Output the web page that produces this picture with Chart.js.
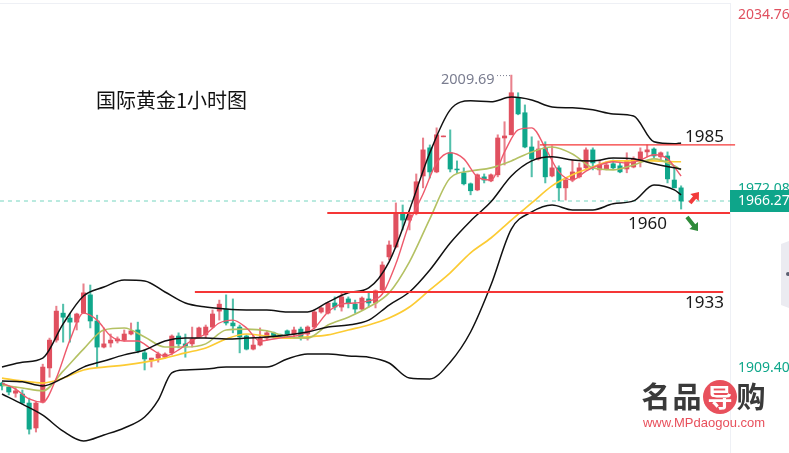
<!DOCTYPE html>
<html><head><meta charset="utf-8">
<style>html,body{margin:0;padding:0;background:#fff;overflow:hidden}canvas{display:block}</style>
<script src="https://cdn.jsdelivr.net/npm/chart.js@4/dist/chart.umd.min.js"></script>
</head><body><canvas id="c" width="789" height="453"></canvas>
<script>
const title = "国际黄金1小时图";
const axisTicks = [2034.76, 1972.08, 1909.40];
const lastPrice = 1966.27;
const highLabel = 2009.69;

const opens = [1903.5,1902.1,1900.0,1899.7,1896.6,1888.0,1896.9,1908.7,1918.3,1927.6,1925.9,1924.5,1927.6,1933.9,1924.9,1915.9,1917.3,1918.0,1918.3,1920.4,1921.8,1913.9,1911.4,1912.1,1912.4,1913.9,1919.7,1917.0,1917.0,1919.4,1920.1,1922.8,1928.3,1929.0,1924.2,1922.8,1919.7,1915.2,1916.6,1919.0,1920.8,1920.1,1921.5,1920.4,1922.1,1920.4,1922.8,1928.0,1927.6,1931.1,1929.7,1932.5,1930.7,1929.0,1932.5,1931.1,1935.6,1947.0,1950.4,1962.2,1959.7,1962.2,1974.9,1984.6,1976.3,1988.4,1982.9,1977.3,1976.0,1972.2,1970.1,1974.6,1973.2,1975.3,1988.0,1989.1,2001.8,1996.7,1984.9,1980.8,1984.6,1974.9,1977.7,1970.8,1973.5,1974.6,1977.7,1983.9,1977.0,1977.3,1979.1,1978.4,1977.3,1978.0,1980.4,1983.2,1984.2,1981.5,1981.8,1973.5,1970.8];
const closes = [1902.5,1900.4,1900.8,1896.6,1887.6,1896.6,1909.0,1918.3,1928.3,1926.2,1924.5,1927.3,1934.6,1924.9,1915.9,1917.0,1918.3,1918.7,1920.4,1921.5,1914.6,1911.8,1912.1,1913.5,1913.5,1919.7,1917.0,1916.3,1918.7,1922.5,1922.8,1927.3,1930.7,1924.2,1923.2,1919.4,1915.2,1916.6,1919.0,1920.8,1919.7,1919.7,1920.4,1921.8,1919.4,1922.8,1928.0,1929.4,1931.1,1929.7,1933.2,1931.1,1929.0,1932.8,1931.1,1935.3,1944.2,1951.1,1962.2,1959.7,1961.5,1972.9,1983.9,1976.3,1989.1,1988.7,1977.3,1977.0,1972.2,1969.8,1975.3,1973.5,1975.3,1988.0,1988.7,2003.6,1996.3,1984.9,1980.8,1984.2,1974.6,1977.7,1970.8,1973.5,1976.3,1977.7,1983.9,1979.4,1978.7,1978.7,1977.7,1976.3,1980.1,1980.8,1983.2,1983.9,1981.8,1982.9,1973.9,1970.8,1966.27];
const highs = [1903.8,1902.5,1902.1,1901.1,1898.3,1896.9,1910.0,1919.0,1930.0,1930.7,1927.6,1927.6,1937.7,1937.3,1926.9,1922.5,1920.4,1919.4,1921.8,1924.2,1924.5,1914.9,1912.1,1914.2,1913.9,1920.1,1920.8,1920.4,1922.8,1922.8,1923.5,1928.7,1932.1,1933.9,1932.5,1923.5,1920.1,1920.1,1922.5,1921.5,1921.1,1920.4,1921.8,1922.8,1922.8,1923.2,1928.7,1929.7,1931.4,1933.2,1934.6,1933.2,1932.1,1933.2,1934.6,1935.6,1945.3,1952.5,1965.6,1964.9,1962.2,1975.6,1988.0,1985.6,1991.5,1988.7,1990.8,1980.1,1977.7,1972.5,1975.6,1975.6,1975.6,1989.1,1993.6,2009.69,2003.6,1999.4,1988.4,1987.0,1986.7,1985.3,1978.4,1973.9,1980.4,1979.4,1984.6,1984.6,1980.4,1979.8,1980.4,1979.4,1982.9,1981.5,1984.6,1985.6,1984.6,1983.2,1983.2,1977.7,1971.5];
const lows = [1901.1,1899.4,1898.6,1896.2,1885.9,1886.6,1896.6,1905.5,1917.6,1917.6,1917.6,1921.8,1927.6,1922.5,1909.0,1915.6,1915.9,1917.3,1917.9,1920.1,1913.9,1908.0,1909.0,1910.7,1912.1,1913.2,1915.6,1912.4,1915.9,1919.0,1919.0,1922.5,1925.2,1923.5,1920.8,1913.9,1914.9,1914.9,1916.3,1918.3,1919.0,1919.4,1919.0,1919.0,1918.3,1918.3,1922.1,1927.6,1927.3,1928.7,1928.3,1929.4,1927.6,1928.7,1929.7,1929.4,1934.9,1945.9,1950.1,1956.3,1956.3,1961.5,1970.8,1974.2,1976.0,1988.4,1976.3,1976.0,1971.8,1968.4,1969.8,1972.5,1972.9,1974.6,1978.7,1989.1,1996.0,1984.6,1974.6,1980.4,1972.5,1974.6,1966.3,1966.6,1972.9,1974.2,1977.0,1977.0,1975.3,1977.0,1977.3,1976.0,1976.0,1977.7,1978.0,1981.5,1981.1,1980.4,1972.5,1970.8,1963.5];

const bandIdx = [0,3,6,9,12,15,18,21,24,27,30,33,36,39,42,45,48,51,54,57,60,63,66,69,72,75,78,81,84,87,90,93,96,99,100];
const upperBand = [1909.0,1910.7,1912.1,1923.9,1933.5,1936.6,1939.0,1938.7,1934.9,1931.1,1929.7,1929.0,1928.7,1928.7,1928.0,1928.0,1931.4,1934.6,1936.3,1945.3,1963.2,1982.9,1997.7,2000.8,2000.5,2002.1,2001.1,1998.7,1998.4,1997.7,1996.3,1995.6,1986.7,1986.0,1986.3];
const midBand = [1904.2,1903.9,1902.5,1905.2,1909.0,1911.1,1913.2,1914.9,1918.0,1919.0,1919.0,1918.7,1919.0,1919.4,1920.1,1921.1,1922.8,1923.5,1925.2,1930.4,1934.9,1942.5,1951.8,1959.4,1966.0,1974.9,1980.1,1981.5,1980.4,1980.1,1981.1,1980.8,1979.1,1977.7,1977.3];
const lowerIdx = [0,3,6,9,12,15,18,21,23,25,27,30,33,36,39,42,45,48,51,54,57,60,63,66,69,72,75,78,81,84,87,90,93,96,99,100];
const lowerBand = [1899.7,1896.2,1892.4,1886.9,1883.5,1885.6,1888.0,1891.8,1897.6,1907.0,1908.0,1908.3,1909.0,1909.0,1909.0,1911.8,1913.5,1913.5,1912.8,1912.4,1910.4,1905.2,1904.9,1910.7,1921.1,1937.3,1956.6,1962.5,1964.9,1963.2,1963.2,1965.3,1966.3,1971.8,1970.1,1968.4];
const yellowMA = [1905.2,1904.2,1903.5,1905.2,1908.0,1909.0,1909.7,1910.7,1912.1,1913.9,1915.6,1918.7,1920.4,1919.7,1919.0,1919.4,1920.1,1921.8,1923.5,1925.9,1929.7,1935.6,1941.5,1948.4,1953.5,1959.7,1965.6,1971.5,1975.3,1978.0,1980.1,1980.1,1980.1,1979.8,1979.8];
const oliveMA = [1902.8,1901.8,1900.8,1907.6,1915.2,1921.8,1922.5,1919.4,1915.9,1915.9,1917.0,1921.8,1922.1,1921.5,1919.4,1919.0,1923.5,1926.2,1929.7,1934.6,1945.3,1960.1,1974.2,1976.6,1977.7,1980.1,1983.2,1984.9,1982.5,1977.7,1977.0,1978.7,1980.8,1978.4,1977.0];
const redIdx = [0,2,4,6,8,10,12,14,16,18,20,22,24,26,28,30,32,34,36,38,40,42,44,46,48,50,52,54,56,58,60,62,64,66,68,70,72,74,76,78,80,82,84,86,88,90,92,94,96,98,100];
const redMA = [1903.5,1901.4,1898.0,1896.9,1905.2,1918.3,1927.6,1925.2,1919.7,1918.0,1918.0,1915.2,1912.8,1914.9,1918.3,1920.4,1924.2,1925.2,1922.5,1918.0,1918.7,1919.4,1920.1,1922.5,1928.0,1930.7,1931.1,1931.8,1934.2,1944.6,1958.7,1968.7,1979.4,1982.9,1980.8,1974.6,1973.5,1983.2,1990.8,1991.5,1984.6,1976.3,1973.5,1976.6,1978.7,1979.8,1979.4,1980.4,1982.2,1980.8,1974.9];

const levelValues = [1985.6, 1962.1, 1934.9];
const levelFrom = [79.2, 47.9, 28.4];
const levelTo = [107.95, 107.2, 106.2];
const levelWidths = [1.2, 2, 2];

const UP = "#e0505f", DOWN = "#10a78b", UPW = "rgba(224,80,95,.72)", DOWNW = "rgba(16,167,139,.72)";
const idx = opens.map((_, i) => i);
const isUp = i => closes[i] >= opens[i];
const pts = (xs, ys) => xs.map((x, i) => ({x, y: ys[i]}));
const line = (label, xs, ys, color, order, width) => ({
  type: "line", label, data: pts(xs, ys), borderColor: color, borderWidth: width,
  pointRadius: 0, tension: 0.35, cubicInterpolationMode: "monotone", order, xAxisID: "x", yAxisID: "y"
});

const overlay = {
  id: "overlay",
  afterDraw(chart) {
    const c = chart.ctx, s = chart.scales;
    c.save();
    c.strokeStyle = "#eef0f5"; c.lineWidth = 1;
    c.beginPath(); c.moveTo(0, 3.5); c.lineTo(730, 3.5); c.stroke();

    c.textBaseline = "middle"; c.textAlign = "left";
    c.fillStyle = "#111"; c.font = '20px "Noto Sans CJK SC"';
    c.fillText(title, 96, 100);
    c.font = '17px "Noto Sans"'; c.fillStyle = "#1a1a1a";
    c.fillText("1985", 685, 137); c.fillText("1960", 628, 224); c.fillText("1933", 685, 303);

    // high marker
    const hy = s.y.getPixelForValue(highLabel);
    c.fillStyle = "#7a7d90"; c.font = '14.5px "Noto Sans"';
    c.fillText(highLabel.toFixed(2), 441, hy + 5);
    c.strokeStyle = "#7a7d90"; c.setLineDash([1, 2]);
    c.beginPath(); c.moveTo(497, hy + .5); c.lineTo(511, hy + .5); c.stroke(); c.setLineDash([]);

    // last price tag
    c.fillStyle = "#0ea58a"; c.fillRect(730, 190, 59, 22);
    c.fillStyle = "#fff"; c.font = '14px "Noto Sans"';
    c.fillText(lastPrice.toFixed(2), 738, 201.5);

    // arrows
    const arrow = (x0, y0, x1, y1, col) => {
      const a = Math.atan2(y1 - y0, x1 - x0), n = a + Math.PI / 2;
      const bx = x1 - Math.cos(a) * 7, by = y1 - Math.sin(a) * 7;
      c.fillStyle = col; c.beginPath();
      c.moveTo(x1, y1);
      c.lineTo(bx + Math.cos(n) * 5.5, by + Math.sin(n) * 5.5);
      c.lineTo(bx + Math.cos(n) * 2, by + Math.sin(n) * 2);
      c.lineTo(x0 + Math.cos(n) * 2, y0 + Math.sin(n) * 2);
      c.lineTo(x0 - Math.cos(n) * 2, y0 - Math.sin(n) * 2);
      c.lineTo(bx - Math.cos(n) * 2, by - Math.sin(n) * 2);
      c.lineTo(bx - Math.cos(n) * 5.5, by - Math.sin(n) * 5.5);
      c.closePath(); c.fill();
    };
    arrow(690, 203, 699, 192, "#f23b3b");
    arrow(687, 217, 698, 231, "#2e8b3a");

    // side handle
    c.fillStyle = "#ebebf1"; c.beginPath();
    c.moveTo(781, 244); c.lineTo(789, 241); c.lineTo(789, 308); c.lineTo(781, 305); c.closePath(); c.fill();
    c.fillStyle = "#5a5f70"; c.beginPath(); c.arc(788, 274, 2, 0, 7); c.fill();

    // watermark
    c.textAlign = "center";
    c.fillStyle = "#3a3a3a"; c.font = 'bold 29px "Noto Sans CJK SC"';
    c.fillText("名", 656, 397); c.fillText("品", 687, 397); c.fillText("购", 751, 397);
    c.fillStyle = "#e8505c"; c.beginPath(); c.arc(720, 397, 17, 0, 7); c.fill();
    c.fillStyle = "#fff"; c.font = 'bold 25px "Noto Sans CJK SC"';
    c.fillText("导", 720, 397);
    c.fillStyle = "#e8505c"; c.font = '13px "Liberation Sans"';
    c.fillText("www.MPdaogou.com", 704, 423.5);
    c.restore();
  }
};

new Chart(document.getElementById("c"), {
  type: "bar",
  plugins: [overlay],
  data: {
    datasets: [
      line("upper", bandIdx, upperBand, "#111", 1, 1.5),
      line("mid", bandIdx, midBand, "#111", 1, 1.5),
      line("lower", lowerIdx, lowerBand, "#111", 1, 1.5),
      line("red", redIdx, redMA, "#ee5a6c", 2, 1.4),
      line("olive", bandIdx, oliveMA, "#b4c163", 3, 1.6),
      line("yellow", bandIdx, yellowMA, "#fccb33", 3, 1.7),
      ...levelValues.map((v, i) => ({
        type: "line", label: "level" + i, data: [{x: levelFrom[i], y: v}, {x: levelTo[i], y: v}],
        borderColor: "#f53636", borderWidth: levelWidths[i], pointRadius: 0, clip: false, order: 0
      })),
      { type: "line", label: "last", data: [{x: -0.3, y: lastPrice}, {x: 107.2, y: lastPrice}],
        borderColor: "#a3e3d5", borderWidth: 1.5, borderDash: [4, 4], pointRadius: 0, order: 6 },
      { type: "bar", label: "body", grouped: false, order: 4, barThickness: 4.4,
        data: idx.map(i => ({x: i, y: [opens[i], closes[i]]})),
        backgroundColor: idx.map(i => isUp(i) ? UP : DOWN), borderWidth: 0, borderSkipped: false },
      { type: "bar", label: "wick", grouped: false, order: 5, barThickness: 1.4,
        data: idx.map(i => ({x: i, y: [lows[i], highs[i]]})),
        backgroundColor: idx.map(i => isUp(i) ? UPW : DOWNW), borderWidth: 0, borderSkipped: false }
    ]
  },
  options: {
    responsive: false, animation: false, devicePixelRatio: 1,
    layout: {padding: {top: 3, left: 0, right: 0, bottom: 0}},
    plugins: {legend: {display: false}, tooltip: {enabled: false}},
    scales: {
      x: {type: "linear", display: false, offset: false, min: -0.295, max: 107.2, grid: {display: false}},
      y: {type: "linear", display: false, min: 1879.37, max: 2034.55, grid: {display: false}},
      yr: {
        type: "logarithmic", position: "right", min: 1880.4, max: 2039.16,
        grid: {display: false, drawTicks: false},
        border: {display: true, color: "#eef0f5"},
        afterFit(scale) { scale.width = 59; scale.paddingTop = 0; scale.paddingBottom = 0; },
        afterBuildTicks(scale) { scale.ticks = axisTicks.map(v => ({value: v})); },
        ticks: {
          autoSkip: false, padding: 8, maxRotation: 0, font: {family: "Noto Sans", size: 14},
          color: ctx => ctx.index === 0 ? "#e0505f" : "#10a78b",
          callback: v => Number(v).toFixed(2)
        }
      }
    }
  }
});
</script></body></html>
